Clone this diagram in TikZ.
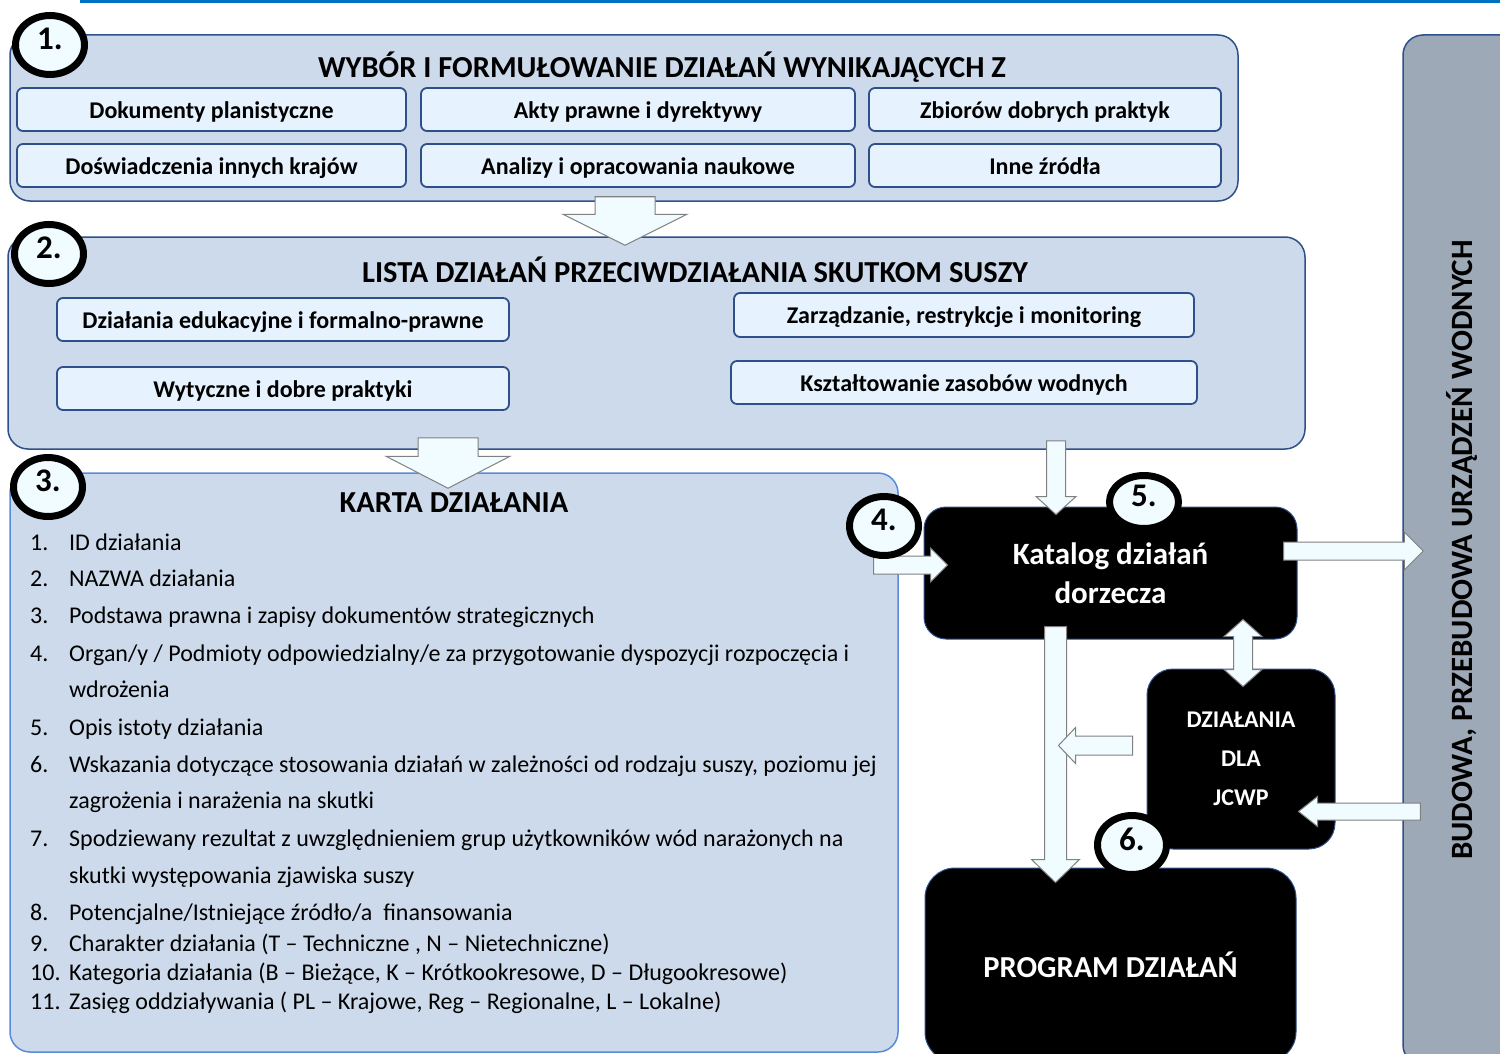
\documentclass[tikz,border=0pt]{standalone}
\usepackage{fontspec}
\setmainfont{Carlito}
\usetikzlibrary{calc,positioning,shapes.geometric}

\definecolor{panelfill}{HTML}{CDDAEB}
\definecolor{paneldraw}{HTML}{2F4F8A}
\definecolor{itemfill}{HTML}{E6F2FD}
\definecolor{kartadraw}{HTML}{5A8AD8}
\definecolor{barfill}{HTML}{9EA9B8}
\definecolor{arrfill}{HTML}{F0FCFF}
\definecolor{toprule}{HTML}{0070C0}

\tikzset{
  panel/.style={draw=paneldraw, fill=panelfill, line width=1.5pt, rounded corners=20pt},
  item/.style={draw=paneldraw, fill=itemfill, line width=1.8pt, rounded corners=6pt, inner sep=0pt,
    text height=20pt, text depth=2.5pt, font=\fontsize{24}{26}\selectfont\bfseries},
  blackbox/.style={draw=paneldraw, fill=black, line width=1pt, text=white, align=center, inner sep=0pt},
  stepno/.style={ellipse, draw=black, line width=7pt, fill=arrfill, minimum width=69pt, minimum height=59pt,
    inner sep=0pt, font=\fontsize{33}{34}\selectfont\bfseries},
  blockarr/.style={draw=gray, fill=arrfill, line width=1pt, line join=miter},
  paneltitle/.style={font=\fontsize{30.5}{32}\selectfont\bfseries},
  listline/.style={anchor=mid west, inner sep=0pt, font=\fontsize{24}{26}\selectfont},
}

% block arrow: start, end, shaft half width, head half width, head length
\newcommand{\blockarrow}[5]{%
  \path (#1) coordinate (ba-s) (#2) coordinate (ba-e);
  \path ($(ba-e)!#5!(ba-s)$) coordinate (ba-h);
  \draw[blockarr] ($(ba-s)!#3!90:(ba-e)$) -- ($(ba-h)!#3!90:(ba-e)$) -- ($(ba-h)!#4!90:(ba-e)$)
    -- (ba-e) -- ($(ba-h)!#4!-90:(ba-e)$) -- ($(ba-h)!#3!-90:(ba-e)$) -- ($(ba-s)!#3!-90:(ba-e)$) -- cycle;}
% same, with a head at both ends
\newcommand{\dblarrow}[5]{%
  \path (#1) coordinate (da-s) (#2) coordinate (da-e);
  \path ($(da-e)!#5!(da-s)$) coordinate (da-h) ($(da-s)!#5!(da-e)$) coordinate (da-g);
  \draw[blockarr] (da-s) -- ($(da-g)!#4!90:(da-e)$) -- ($(da-g)!#3!90:(da-e)$) -- ($(da-h)!#3!90:(da-e)$)
    -- ($(da-h)!#4!90:(da-e)$) -- (da-e) -- ($(da-h)!#4!-90:(da-e)$) -- ($(da-h)!#3!-90:(da-e)$)
    -- ($(da-g)!#3!-90:(da-e)$) -- ($(da-g)!#4!-90:(da-e)$) -- cycle;}
\newcommand{\stepnum}[1]{\raisebox{12pt}{#1}}

\begin{document}
\begin{tikzpicture}[x=1pt,y=-1pt]
\useasboundingbox (0,0) rectangle (1500,1054);

\draw[toprule, line width=3pt] (80,1.5) -- (1500,1.5);

% right bar
\node[draw=paneldraw, fill=barfill, line width=1.5pt, rounded corners=20pt, rotate=90,
  minimum width=1030pt, minimum height=117pt, font=\fontsize{31}{32}\selectfont\bfseries]
  (budowa) at (1461.5,550) {BUDOWA, PRZEBUDOWA URZĄDZEŃ WODNYCH};

% 1.
\node[panel, minimum width=1228pt, minimum height=166pt] (wybor) at (624,118) {};
\node[paneltitle] (wyborT) at (662,67) {WYBÓR I FORMUŁOWANIE DZIAŁAŃ WYNIKAJĄCYCH Z};
\node[item, minimum width=389pt, minimum height=43pt] (dok) at (211.5,109.5) {Dokumenty planistyczne};
\node[item, minimum width=434pt, minimum height=43pt] (akty) at (638,109.5) {Akty prawne i dyrektywy};
\node[item, minimum width=352pt, minimum height=43pt] (zbior) at (1045,109.5) {Zbiorów dobrych praktyk};
\node[item, minimum width=389pt, minimum height=43pt] (dosw) at (211.5,165.5) {Doświadczenia innych krajów};
\node[item, minimum width=434pt, minimum height=43pt] (anal) at (638,165.5) {Analizy i opracowania naukowe};
\node[item, minimum width=352pt, minimum height=43pt] (inne) at (1045,165.5) {Inne źródła};

% 2.
\node[panel, minimum width=1297pt, minimum height=212pt] (lista) at (656.5,343) {};
\node[paneltitle] (listaT) at (695,270) {LISTA DZIAŁAŃ PRZECIWDZIAŁANIA SKUTKOM SUSZY};
\node[item, minimum width=452pt, minimum height=43pt] (edu) at (283,319.5) {Działania edukacyjne i formalno-prawne};
\node[item, minimum width=452pt, minimum height=43pt] (wyt) at (283,388.5) {Wytyczne i dobre praktyki};
\node[item, minimum width=460pt, minimum height=44pt] (zarz) at (964,315) {Zarządzanie, restrykcje i monitoring};
\node[item, minimum width=466pt, minimum height=43pt] (ksz) at (964,382.5) {Kształtowanie zasobów wodnych};

% 3.
\node[panel, draw=kartadraw, minimum width=888pt, minimum height=579pt] (karta) at (454,762.5) {};
\node[paneltitle] (kartaT) at (454,503) {KARTA DZIAŁANIA};
\node[listline] (k1) at (30,548) {\makebox[39pt][l]{1.}ID działania};
\node[listline] (k2) at (30,584) {\makebox[39pt][l]{2.}NAZWA działania};
\node[listline] (k3) at (30,621) {\makebox[39pt][l]{3.}Podstawa prawna i zapisy dokumentów strategicznych};
\node[listline] (k4) at (30,659) {\makebox[39pt][l]{4.}Organ/y / Podmioty odpowiedzialny/e za przygotowanie dyspozycji rozpoczęcia i};
\node[listline] (k4b) at (69,695) {wdrożenia};
\node[listline] (k5) at (30,733) {\makebox[39pt][l]{5.}Opis istoty działania};
\node[listline] (k6) at (30,770) {\makebox[39pt][l]{6.}Wskazania dotyczące stosowania działań w zależności od rodzaju suszy, poziomu jej};
\node[listline] (k6b) at (69,806) {zagrożenia i narażenia na skutki};
\node[listline] (k7) at (30,844) {\makebox[39pt][l]{7.}Spodziewany rezultat z uwzględnieniem\ grup użytkowników wód narażonych na};
\node[listline] (k7b) at (69,881) {skutki występowania zjawiska suszy};
\node[listline] (k8) at (30,918) {\makebox[39pt][l]{8.}Potencjalne/Istniejące źródło/a\ \ finansowania};
\node[listline] (k9) at (30,949) {\makebox[39pt][l]{9.}Charakter działania (T -- Techniczne , N -- Nietechniczne)};
\node[listline] (k10) at (30,978) {\makebox[39pt][l]{10.}Kategoria działania (B -- Bieżące, K -- Krótkookresowe, D -- Długookresowe)};
\node[listline] (k11) at (30,1007) {\makebox[39pt][l]{11.}Zasięg oddziaływania ( PL -- Krajowe, Reg -- Regionalne,\ L -- Lokalne)};

% black boxes
\node[blackbox, rounded corners=22pt, minimum width=373pt, minimum height=132pt,
  font=\fontsize{31}{39}\selectfont\bfseries] (katalog) at (1110.5,573) {Katalog działań\\dorzecza};
\node[blackbox, rounded corners=26pt, minimum width=188pt, minimum height=180pt,
  font=\fontsize{24}{39}\selectfont\bfseries] (jcwp) at (1241,759) {DZIAŁANIA\\DLA\\JCWP};
\node[blackbox, rounded corners=30pt, minimum width=371pt, minimum height=194pt,
  font=\fontsize{30.5}{32}\selectfont\bfseries] (program) at (1110.5,965) {PROGRAM DZIAŁAŃ};

% arrows
\blockarrow{$(wybor.south)+(1,-5)$}{$(lista.north)+(-31.5,9)$}{30pt}{62pt}{31pt}
\blockarrow{$(lista.south)+(-208.5,-12)$}{$(karta.north)+(-6,16)$}{30pt}{62pt}{32pt}
\blockarrow{$(lista.south)+(399.5,-9)$}{$(katalog.north)+(-54.5,8)$}{9.5pt}{20pt}{18pt}
\blockarrow{$(katalog.west)+(-50,-8)$}{$(katalog.west)+(24,-8)$}{9pt}{17pt}{17pt}
\blockarrow{$(katalog.east)+(-14,-22)$}{$(budowa.north)+(21,1)$}{9pt}{19pt}{19pt}
\blockarrow{$(katalog.south)+(-55,-13)$}{$(program.north)+(-55,15)$}{11pt}{24pt}{23pt}
\blockarrow{$(jcwp.west)+(-14,-13.5)$}{$(jcwp.west)+(-88,-13.5)$}{9.5pt}{18pt}{17pt}
\blockarrow{$(budowa.north)+(18,261.5)$}{$(jcwp.east)+(-37,52.5)$}{8.5pt}{15pt}{19pt}
\dblarrow{$(katalog.south)+(132.5,-20)$}{$(jcwp.north)+(2,18)$}{9.5pt}{19pt}{17pt}

% step numbers
\node[stepno] (s1) at (50,45) {\stepnum{1.}};
\node[stepno] (s2) at (49,254) {\stepnum{2.}};
\node[stepno] (s3) at (48,487) {\stepnum{3.}};
\node[stepno] (s4) at (884,526) {\stepnum{4.}};
\node[stepno, minimum height=53pt] (s5) at (1144,502) {\stepnum{5.}};
\node[stepno] (s6) at (1132,845) {\stepnum{6.}};

\end{tikzpicture}
\end{document}
